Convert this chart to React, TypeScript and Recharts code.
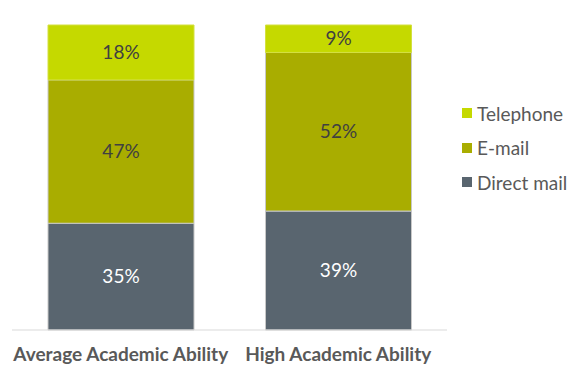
import React from 'react';
import { BarChart, Bar, XAxis, YAxis, LabelList } from 'recharts';

const categories = ['Average Academic Ability', 'High Academic Ability'];
const directMail = [35, 39];
const email = [47, 52];
const telephone = [18, 9];

const series = [
  { key: 'telephone', name: 'Telephone', color: '#C5D900' },
  { key: 'email', name: 'E-mail', color: '#A9AD00' },
  { key: 'directMail', name: 'Direct mail', color: '#59656F' },
];

const data = categories.map((name, i) => ({
  name,
  directMail: directMail[i],
  email: email[i],
  telephone: telephone[i],
}));

const pct = (v: any) => `${v}%`;
const font = 'Lato, sans-serif';

export default function App() {
  return (
    <div style={{ position: 'absolute', left: 0, top: 0, width: 587, height: 378, background: '#fff' }}>
      <BarChart
        width={587}
        height={378}
        data={data}
        margin={{ top: 25, right: 140, left: 12, bottom: 0 }}
        barCategoryGap={36}
      >
        <YAxis hide domain={[0, 100]} />
        <XAxis
          dataKey="name"
          height={48}
          tickLine={false}
          axisLine={{ stroke: '#D9D9D9' }}
          tick={{ fill: '#595959', fontSize: 19, fontWeight: 700, fontFamily: font }}
          tickMargin={12}
          interval={0}
        />
        <Bar dataKey="directMail" name="Direct mail" stackId="a" fill="#59656F" stroke="#C8C8C8" strokeWidth={1} isAnimationActive={false}>
          <LabelList dataKey="directMail" position="center" formatter={pct} fill="#FFFFFF" fontSize={19} fontFamily={font} />
        </Bar>
        <Bar dataKey="email" name="E-mail" stackId="a" fill="#A9AD00" stroke="#C8C8C8" strokeWidth={1} isAnimationActive={false}>
          <LabelList dataKey="email" position="center" formatter={pct} fill="#404040" fontSize={19} fontFamily={font} />
        </Bar>
        <Bar dataKey="telephone" name="Telephone" stackId="a" fill="#C5D900" stroke="#D4E040" strokeWidth={1} isAnimationActive={false}>
          <LabelList dataKey="telephone" position="center" formatter={pct} fill="#404040" fontSize={19} fontFamily={font} />
        </Bar>
      </BarChart>
      <div style={{ position: 'absolute', left: 462, top: 96, fontFamily: font }}>
        {series.map((s) => (
          <div key={s.key} style={{ display: 'flex', alignItems: 'center', height: 34.5 }}>
            <span style={{ width: 10, height: 10, background: s.color, marginRight: 5, display: 'inline-block' }} />
            <span style={{ fontSize: 19, color: '#595959' }}>{s.name}</span>
          </div>
        ))}
      </div>
    </div>
  );
}
